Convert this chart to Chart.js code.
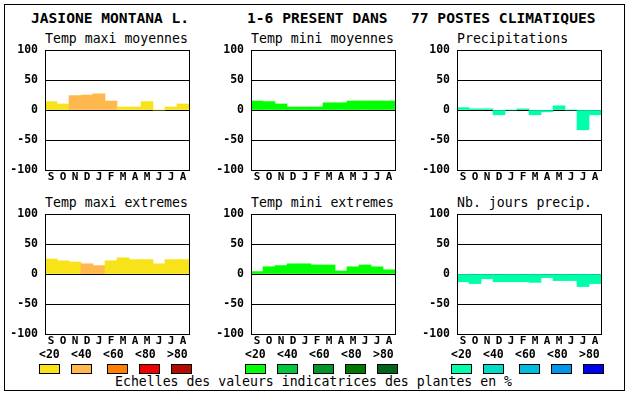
<!DOCTYPE html>
<html>
<head>
<meta charset="utf-8">
<script src="https://cdn.jsdelivr.net/npm/chart.js@4"></script>
<style>
body { margin: 0; background: #fff; }
#page { position: relative; width: 630px; height: 394px; overflow: hidden; font-family: "DejaVu Sans Mono", monospace; color: #000; }
#frame { position: absolute; left: 4px; top: 4px; width: 621px; height: 387px; border: 1px solid #000; box-sizing: border-box; }
.title { position: absolute; top: 9px; font-size: 14.6px; font-weight: bold; white-space: pre; line-height: 18px; }
.sub { position: absolute; font-size: 13.2px; white-space: pre; line-height: 16px; }
.lab { position: absolute; width: 20px; text-align: center; font-size: 11.5px; font-weight: bold; line-height: 14px; top: 347px; }
.box { position: absolute; top: 364px; width: 21px; height: 10px; border: 1px solid #000; box-sizing: border-box; }
canvas { position: absolute; }
#foot { position: absolute; left: 115px; top: 374px; font-size: 13.2px; line-height: 16px; white-space: pre; }
</style>
</head>
<body>
<div id="page">
  <div id="frame"></div>
  <div class="title" style="left:31px">JASIONE MONTANA L.</div>
  <div class="title" style="left:247px">1-6 PRESENT DANS</div>
  <div class="title" style="left:411px">77 POSTES CLIMATIQUES</div>
  <div id="foot">Echelles des valeurs indicatrices des plantes en %</div>
</div>
<script>
const months = ["S", "O", "N", "D", "J", "F", "M", "A", "M", "J", "J", "A"];
const legendLabels = ["<20", "<40", "<60", "<80", ">80"];

const tempColors = ["#f8e21a", "#ffb84d", "#ff8000", "#ee0000", "#b00c00"];
const greenColors = ["#00ff00", "#00c83c", "#00962a", "#007800", "#00641e"];
const waterColors = ["#00ffaa", "#00dcc8", "#00bedc", "#0096ea", "#0000f0"];

// values in %
const maxiMoy = [14, 10, 24, 25, 27, 15, 5, 5, 14, 0, 5, 10];
const maxiMoyClass = [0, 0, 1, 1, 1, 1, 0, 0, 0, 0, 0, 0];
const miniMoy = [15, 14, 10, 5, 5, 5, 12, 12, 15, 15, 15, 15];
const precip = [4, 2, 2, -8, 0, 2, -8, -3, 7, 0, -33, -8];
const maxiExt = [25, 22, 20, 17, 14, 22, 27, 24, 24, 17, 24, 24];
const maxiExtClass = [0, 0, 0, 1, 1, 0, 0, 0, 0, 0, 0, 0];
const miniExt = [4, 12, 14, 17, 17, 15, 15, 5, 12, 15, 12, 7];
const joursPrecip = [-13, -16, -8, -13, -13, -13, -14, -6, -11, -11, -21, -16];

const yTicks = [-100, -50, 0, 50, 100];

const page = document.getElementById("page");

const frameBox = {
    id: "frameBox",
    afterDraw(chart) {
        const a = chart.chartArea;
        const c = chart.ctx;
        c.save();
        c.strokeStyle = "#000";
        c.lineWidth = 1;
        c.strokeRect(a.left + 0.5, a.top + 0.5, a.right - a.left, a.bottom - a.top);
        c.restore();
    }
};

function panel(px, py, title, values, colors) {
    const sub = document.createElement("div");
    sub.className = "sub";
    sub.style.left = px + "px";
    sub.style.top = (py - 19) + "px";
    sub.textContent = title;
    page.appendChild(sub);

    const cv = document.createElement("canvas");
    cv.width = 200;
    cv.height = 150;
    cv.style.left = (px - 45) + "px";
    cv.style.top = (py - 10) + "px";
    page.appendChild(cv);

    new Chart(cv.getContext("2d"), {
        type: "bar",
        data: {
            labels: months,
            datasets: [{
                data: values,
                backgroundColor: colors,
                borderWidth: 0,
                barPercentage: 1,
                categoryPercentage: 1
            }]
        },
        options: {
            responsive: false,
            animation: false,
            devicePixelRatio: 1,
            layout: { padding: { top: 10, right: 11, left: 0, bottom: 0 } },
            plugins: { legend: { display: false }, tooltip: { enabled: false } },
            scales: {
                x: {
                    grid: { display: false, drawTicks: false },
                    border: { display: false },
                    ticks: {
                        color: "#000",
                        padding: 1,
                        maxRotation: 0,
                        autoSkip: false,
                        font: { family: "DejaVu Sans Mono", size: 11, weight: "bold" }
                    },
                    afterFit(s) { s.height = 20; }
                },
                y: {
                    min: -100,
                    max: 100,
                    z: 1,
                    afterBuildTicks(s) { s.ticks = yTicks.map(v => ({ value: v })); },
                    grid: { color: "#000", lineWidth: 1, drawTicks: false },
                    border: { display: false },
                    ticks: {
                        color: "#000",
                        padding: 7,
                        font: { family: "DejaVu Sans Mono", size: 11.5, weight: "bold" }
                    },
                    afterFit(s) {
                        s.width = 45;
                        s.paddingTop = 0;
                        s.paddingBottom = 0;
                    }
                }
            }
        },
        plugins: [frameBox]
    });
}

function legend(px, palette) {
    const labX = [0, 32, 64, 96, 128];
    const boxX = [0, 32, 68, 100, 132];
    legendLabels.forEach((t, i) => {
        const l = document.createElement("div");
        l.className = "lab";
        l.style.left = (px - 6 + labX[i]) + "px";
        l.textContent = t;
        page.appendChild(l);
        const b = document.createElement("div");
        b.className = "box";
        b.style.left = (px - 6 + boxX[i]) + "px";
        b.style.background = palette[i];
        page.appendChild(b);
    });
}

panel(45, 50, "Temp maxi moyennes", maxiMoy, maxiMoyClass.map(k => tempColors[k]));
panel(251, 50, "Temp mini moyennes", miniMoy, greenColors[0]);
panel(457, 50, "Precipitations", precip, waterColors[0]);
panel(45, 214, "Temp maxi extremes", maxiExt, maxiExtClass.map(k => tempColors[k]));
panel(251, 214, "Temp mini extremes", miniExt, greenColors[0]);
panel(457, 214, "Nb. jours precip.", joursPrecip, waterColors[0]);

legend(45, tempColors);
legend(251, greenColors);
legend(457, waterColors);
</script>
</body>
</html>
